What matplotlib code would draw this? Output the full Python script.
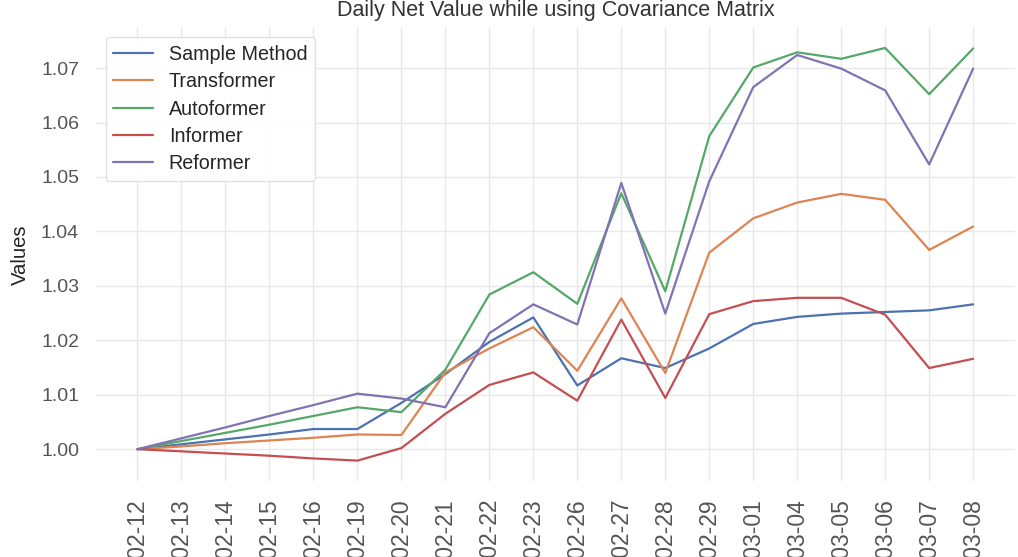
import matplotlib
matplotlib.use("Agg")
import matplotlib.pyplot as plt
import seaborn as sns

dates = ["2024-02-12", "2024-02-13", "2024-02-14", "2024-02-15", "2024-02-16",
         "2024-02-19", "2024-02-20", "2024-02-21", "2024-02-22", "2024-02-23",
         "2024-02-26", "2024-02-27", "2024-02-28", "2024-02-29", "2024-03-01",
         "2024-03-04", "2024-03-05", "2024-03-06", "2024-03-07", "2024-03-08"]

sample_method = [1.0000, 1.0009, 1.0018, 1.0027, 1.0037, 1.0037, 1.0085, 1.0138, 1.0197, 1.0242,
                 1.0117, 1.0167, 1.0149, 1.0185, 1.0230, 1.0243, 1.0249, 1.0252, 1.0255, 1.0266]
transformer = [1.0000, 1.0005, 1.0011, 1.0016, 1.0021, 1.0027, 1.0026, 1.0141, 1.0185, 1.0224,
               1.0144, 1.0277, 1.0140, 1.0361, 1.0424, 1.0453, 1.0469, 1.0458, 1.0366, 1.0409]
autoformer = [1.0000, 1.0015, 1.0030, 1.0045, 1.0061, 1.0077, 1.0068, 1.0146, 1.0284, 1.0325,
              1.0267, 1.0470, 1.0290, 1.0575, 1.0701, 1.0729, 1.0717, 1.0737, 1.0652, 1.0736]
informer = [1.0000, 0.9996, 0.9992, 0.9988, 0.9983, 0.9979, 1.0002, 1.0065, 1.0118, 1.0141,
            1.0089, 1.0238, 1.0094, 1.0248, 1.0272, 1.0278, 1.0278, 1.0247, 1.0149, 1.0166]
reformer = [1.0000, 1.0020, 1.0040, 1.0061, 1.0081, 1.0102, 1.0093, 1.0077, 1.0213, 1.0266,
            1.0229, 1.0489, 1.0249, 1.0492, 1.0665, 1.0724, 1.0699, 1.0659, 1.0523, 1.0699]

series = {"Sample Method": sample_method, "Transformer": transformer,
          "Autoformer": autoformer, "Informer": informer, "Reformer": reformer}

sns.set_theme(style="whitegrid")
plt.rcParams["font.family"] = ["Liberation Sans", "DejaVu Sans"]

fig = plt.figure(figsize=(10.18, 5.57), dpi=100)
ax = fig.add_axes([0.094, 0.136, 0.903, 0.815])

colors = sns.color_palette("deep")
for (name, vals), c in zip(series.items(), colors):
    ax.plot(dates, vals, label=name, color=c, linewidth=1.6)

ax.set_title("Daily Net Value while using Covariance Matrix", fontsize=15.5,
             color="#333333", pad=8)
ax.set_ylabel("Values", fontsize=14.6, color="#222222", labelpad=8)
ax.tick_params(axis="x", labelrotation=90, length=0, pad=12, labelsize=16.5,
               labelcolor="#555555")
ax.tick_params(axis="y", length=0, pad=12, labelsize=14, labelcolor="#555555")
for s in ax.spines.values():
    s.set_visible(False)
ax.grid(True, color="#e8e8e8", linewidth=1)

ax.legend(loc="upper left", fontsize=14.2, handlelength=2.0, labelspacing=0.42,
          frameon=True, edgecolor="#dddddd", facecolor="white", framealpha=0.9)

fig.savefig("out.png", dpi=100)
